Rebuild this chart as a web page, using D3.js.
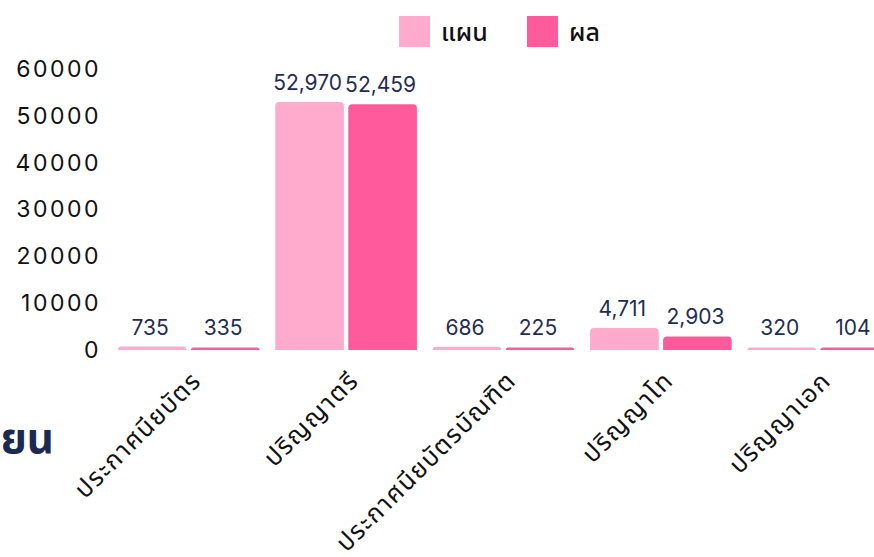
<!DOCTYPE html>
<html>
<head>
<meta charset="utf-8">
<script src="https://cdn.jsdelivr.net/npm/d3@7"></script>
<style>
  html, body { margin: 0; padding: 0; background: #fff; overflow: hidden; }
  text { font-family: "Noto Sans", "Noto Sans Thai", sans-serif; }
</style>
</head>
<body>
<div id="chart"></div>
<script>
// data
const categories = ["ประกาศนียบัตร", "ปริญญาตรี", "ประกาศนียบัตรบัณฑิต", "ปริญญาโท", "ปริญญาเอก"];
const seriesNames = ["แผน", "ผล"];
const planValues = [735, 52970, 686, 4711, 320];
const actualValues = [335, 52459, 225, 2903, 104];
const yTicks = [0, 10000, 20000, 30000, 40000, 50000, 60000];

const colors = ["#ffabcd", "#ff5a9b"];

const W = 874, H = 557;
const margin = { top: 69, left: 110, bottom: 207 };
const plotW = 787;
const height = H - margin.top - margin.bottom;
const numFont = "Inter, 'Noto Sans', sans-serif";

const svg = d3.select("#chart")
  .append("svg")
  .attr("width", W)
  .attr("height", H);

// clipped title fragment on the left
svg.append("text")
  .attr("x", 54)
  .attr("y", 453)
  .attr("text-anchor", "end")
  .attr("fill", "#1b2a52")
  .style("font-size", "42px")
  .style("font-weight", "bold")
  .text("จำนวนนักเรียน");

const g = svg.append("g")
  .attr("transform", `translate(${margin.left},${margin.top})`);

const x0 = d3.scaleBand()
  .domain(categories)
  .range([0, plotW])
  .paddingInner(0.1)
  .paddingOuter(0.05);

const x1 = d3.scaleBand()
  .domain(seriesNames)
  .range([0, x0.bandwidth()])
  .paddingInner(0.06);

const y = d3.scaleLinear()
  .domain([0, 60000])
  .range([height, 0]);

// y axis labels, no lines
const yAxis = g.append("g")
  .call(d3.axisLeft(y).tickValues(yTicks).tickSize(0).tickPadding(9).tickFormat(d3.format("d")));
yAxis.select(".domain").remove();
yAxis.selectAll("text")
  .style("font-size", "23px")
  .attr("fill", "#111")
  .style("letter-spacing", "2.5px")
  .style("font-family", numFont);

const rows = categories.map((c, i) => ({
  cat: c,
  vals: [
    { s: seriesNames[0], v: planValues[i] },
    { s: seriesNames[1], v: actualValues[i] }
  ]
}));

const r = 4;
function topRounded(xp, yp, w, h) {
  const rr = Math.min(r, h, w / 2);
  return `M${xp},${yp + h}V${yp + rr}Q${xp},${yp} ${xp + rr},${yp}` +
    `H${xp + w - rr}Q${xp + w},${yp} ${xp + w},${yp + rr}V${yp + h}Z`;
}

const groups = g.selectAll(".grp")
  .data(rows)
  .join("g")
  .attr("class", "grp")
  .attr("transform", d => `translate(${x0(d.cat)},0)`);

groups.selectAll("path")
  .data(d => d.vals)
  .join("path")
  .attr("d", d => {
    const h = Math.max(height - y(d.v), 2.5);
    return topRounded(x1(d.s), height - h, x1.bandwidth(), h);
  })
  .attr("fill", (d, i) => colors[i]);

groups.selectAll(".lbl")
  .data(d => d.vals)
  .join("text")
  .attr("class", "lbl")
  .attr("x", d => x1(d.s) + x1.bandwidth() / 2 - 2)
  .attr("y", d => Math.min(y(d.v), height - 3) - 12)
  .attr("text-anchor", "middle")
  .attr("fill", "#1f2d54")
  .style("font-size", "21px")
  .style("font-family", numFont)
  .text(d => d3.format(",")(d.v));

// x labels rotated
g.selectAll(".xl")
  .data(categories)
  .join("text")
  .attr("class", "xl")
  .attr("transform", d => `translate(${x0(d) + x0.bandwidth() / 2 + 14},${height + 32}) rotate(-45)`)
  .attr("text-anchor", "end")
  .attr("fill", "#111")
  .style("font-size", "25px")
  .style("letter-spacing", "1.5px")
  .text(d => d);

// legend
const legend = svg.append("g").attr("transform", "translate(399,16)");
const legX = [0, 128];
seriesNames.forEach((s, i) => {
  legend.append("rect")
    .attr("x", legX[i])
    .attr("y", 0)
    .attr("width", 31)
    .attr("height", 31)
    .attr("fill", colors[i]);
  legend.append("text")
    .attr("x", legX[i] + 42)
    .attr("y", 25)
    .attr("fill", "#111")
    .style("font-size", "25px")
    .style("font-weight", "500")
    .text(s);
});
</script>
</body>
</html>
